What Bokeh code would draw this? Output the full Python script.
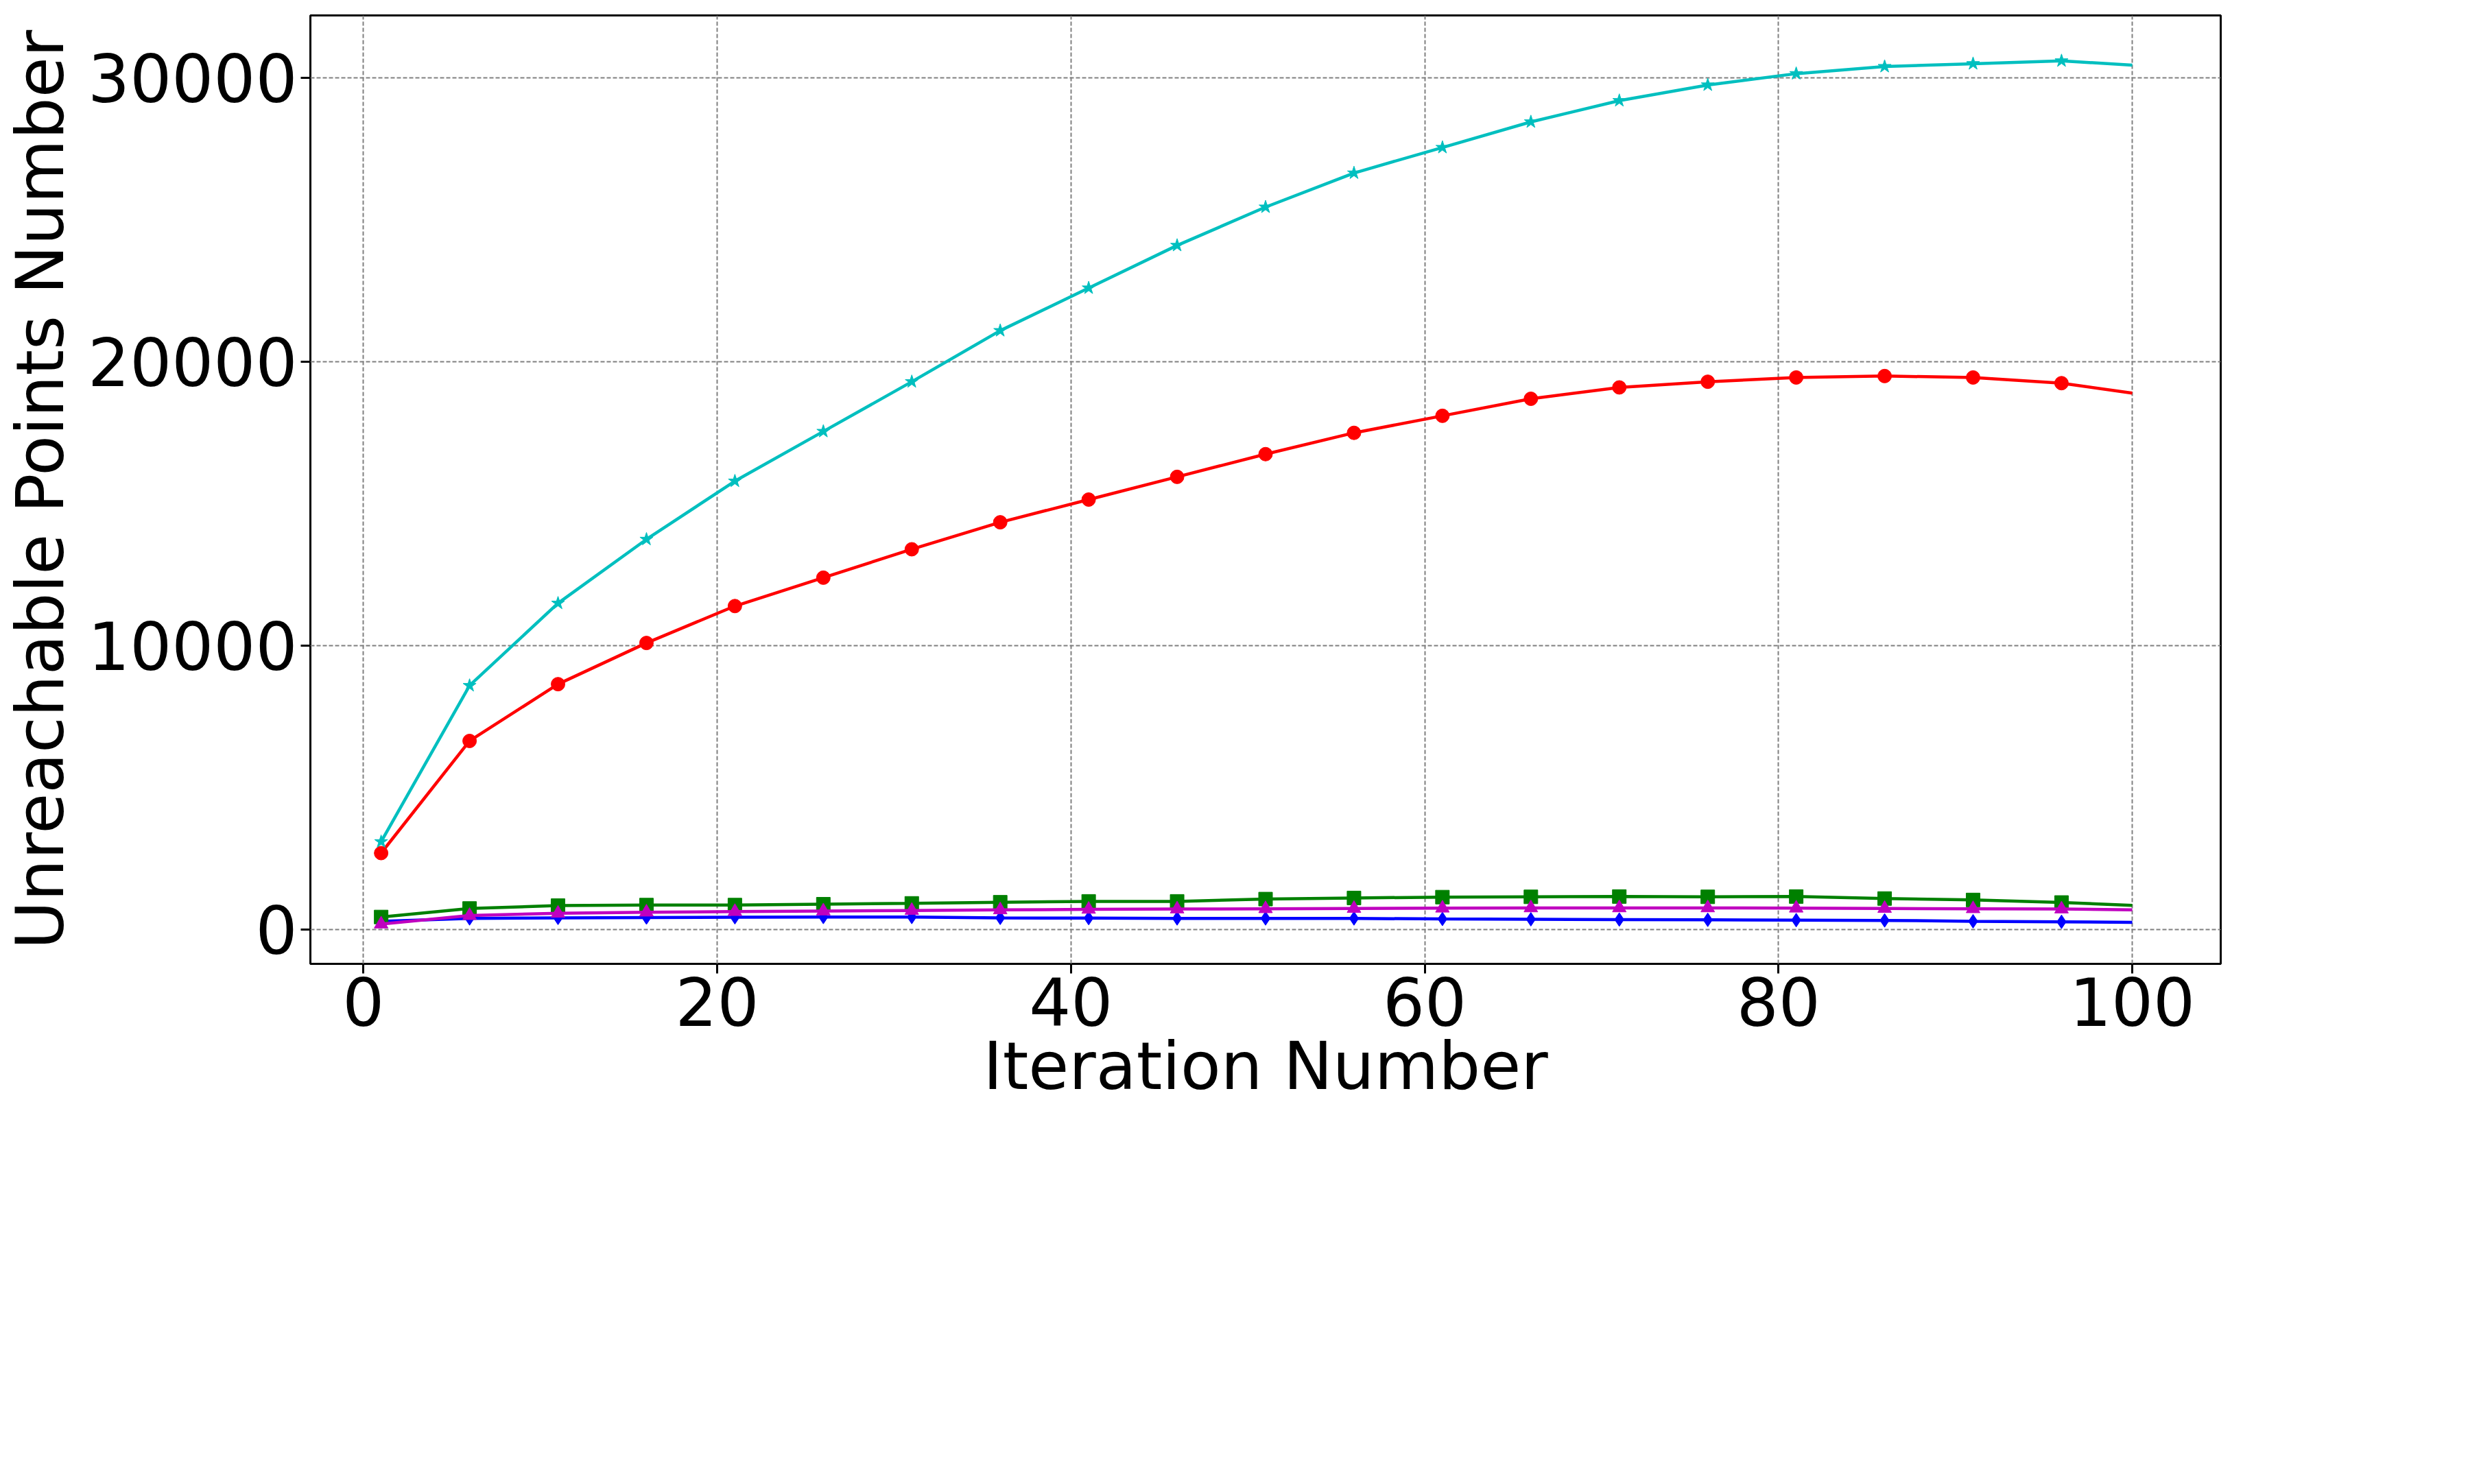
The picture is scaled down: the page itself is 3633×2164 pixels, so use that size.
from bokeh.plotting import figure
from bokeh.models import Legend, LegendItem, FixedTicker, Range1d
from bokeh.embed import file_html
from bokeh.resources import INLINE

iters = [1, 6, 11, 16, 21, 26, 31, 36, 41, 46, 51, 56, 61, 66, 71, 76, 81, 86, 91, 96, 100]
mn_alpha = [2700, 6650, 8650, 10100, 11400, 12400, 13400, 14350, 15150, 15950, 16750,
            17500, 18100, 18700, 19100, 19300, 19450, 19500, 19450, 19250, 18900]
mn_beta = [450, 750, 850, 870, 870, 900, 930, 970, 1000, 1000, 1080, 1120, 1150, 1160,
           1170, 1160, 1170, 1100, 1050, 960, 860]
mn_gamma = [300, 400, 420, 430, 440, 450, 450, 420, 410, 400, 400, 400, 380, 370, 360,
            350, 340, 330, 300, 280, 260]
mn_thn = [200, 500, 580, 620, 640, 660, 680, 700, 720, 730, 740, 750, 760, 770, 770, 770,
          760, 750, 740, 730, 700]
hnsw = [3100, 8600, 11500, 13750, 15800, 17550, 19300, 21100, 22600, 24100, 25450, 26650,
        27550, 28450, 29200, 29750, 30150, 30400, 30500, 30600, 30450]

FONT = "DejaVu Sans"
p = figure(frame_width=2785, frame_height=1383, output_backend="svg", toolbar_location=None,
           x_range=Range1d(-3, 105), y_range=Range1d(-1200, 32200),
           min_border_left=20, min_border_top=22, min_border_right=60, min_border_bottom=0)
p.outline_line_color = "black"
p.outline_line_width = 3
for ax in (p.xaxis, p.yaxis):
    ax.major_label_text_font = FONT
    ax.major_label_text_font_size = "96px"
    ax.major_label_text_color = "black"
    ax.axis_label_text_font = FONT
    ax.axis_label_text_font_size = "96px"
    ax.axis_label_text_color = "black"
    ax.axis_label_text_font_style = "normal"
    ax.minor_tick_line_color = None
    ax.major_tick_line_width = 3
    ax.major_tick_out = 14
    ax.major_tick_in = 0
    ax.axis_line_color = None
p.xaxis.ticker = FixedTicker(ticks=[0, 20, 40, 60, 80, 100])
p.yaxis.ticker = FixedTicker(ticks=[0, 10000, 20000, 30000])
p.xaxis.axis_label = "Iteration Number"
p.yaxis.axis_label = "Unreachable Points Number"
p.xaxis.axis_label_standoff = 0
p.yaxis.axis_label_standoff = 10
p.grid.grid_line_color = "gray"
p.grid.grid_line_dash = "6 3"
p.grid.grid_line_width = 2

series = [
    ("MN-RU α", mn_alpha, "red", "circle"),
    ("MN-RU γ", mn_gamma, "blue", "diamond"),
    ("HNSW-RU", hnsw, "#00bfbf", "star"),
    ("MN-RU β", mn_beta, "green", "square"),
    ("MN-THN-RU", mn_thn, "#bf00bf", "triangle"),
]
items = []
for name, vals, col, mk in series:
    r1 = p.line(iters, vals, line_color=col, line_width=4.5)
    r2 = p.scatter(iters[:-1], vals[:-1], marker=mk, size=20, color=col)
    items.append(LegendItem(label=name, renderers=[r1, r2]))

leg = Legend(items=items, ncols=3, label_text_font=FONT, label_text_font_size="96px",
             label_text_color="black",
             glyph_width=230, glyph_height=90, label_standoff=90, spacing=50,
             padding=40, margin=40, border_line_color="#cccccc", border_line_width=3,
             location="center", label_width=520, label_height=90)
p.add_layout(leg, "below")

open("out.html", "w").write(file_html(p, INLINE))
